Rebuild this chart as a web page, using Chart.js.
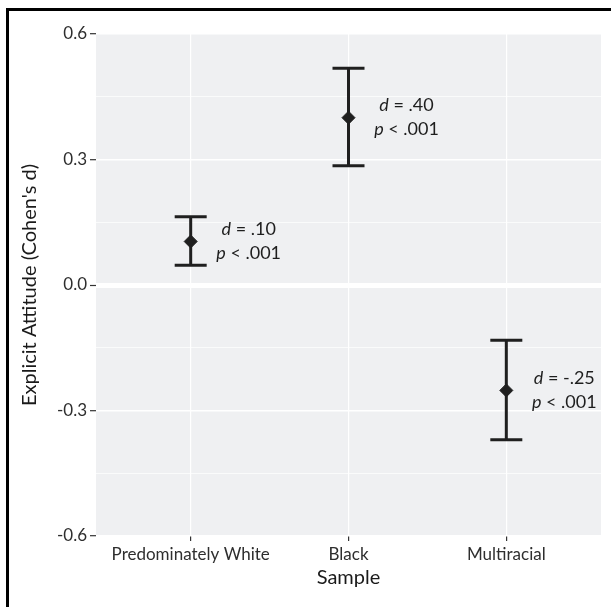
<!DOCTYPE html>
<html>
<head>
<meta charset="utf-8">
<script src="https://cdn.jsdelivr.net/npm/chart.js@4.4.1/dist/chart.umd.min.js"></script>
<style>
  body { margin: 0; background: #fff; }
  #wrap { position: relative; width: 611px; height: 607px; }
  #frame {
    position: absolute; left: 6px; top: 8px; right: 0; bottom: 0;
    border-left: 3px solid #000; border-top: 3px solid #000;
    pointer-events: none;
  }
</style>
</head>
<body>
<div id="wrap">
  <canvas id="myGraph" width="611" height="607"></canvas>
  <div id="frame"></div>
</div>
<script>
// samples and their effect sizes (Cohen's d) with 95% CI
const categories = ["Predominately White", "Black", "Multiracial"];
const means = [0.104, 0.40, -0.252];
const ciLow = [0.047, 0.285, -0.37];
const ciHigh = [0.163, 0.518, -0.132];
const dLabels = [".10", ".40", "-.25"];
const pLabels = ["< .001", "< .001", "< .001"];
const yMajorTicks = [-0.6, -0.3, 0.0, 0.3, 0.6];

const FONT = "Lato, 'Open Sans', sans-serif";
const INK = "#1f1f1f";

const isMajor = (v) => yMajorTicks.some((m) => Math.abs(m - v) < 1e-6);

// grey panel behind the grid
const panelBg = {
  id: "panelBg",
  beforeDraw(chart) {
    const { ctx, chartArea: a } = chart;
    ctx.save();
    ctx.fillStyle = "#eff0f2";
    ctx.fillRect(a.left, a.top, a.right - a.left, a.bottom - a.top);
    ctx.restore();
  },
};

// error bars with caps
const errorBars = {
  id: "errorBars",
  beforeDatasetsDraw(chart) {
    const { ctx, scales } = chart;
    const x = scales.x, y = scales.y;
    ctx.save();
    ctx.strokeStyle = INK;
    ctx.lineWidth = 3;
    ctx.lineCap = "butt";
    categories.forEach((c, i) => {
      const px = x.getPixelForValue(i + 1);
      const top = y.getPixelForValue(ciHigh[i]);
      const bot = y.getPixelForValue(ciLow[i]);
      ctx.beginPath();
      ctx.moveTo(px, top);
      ctx.lineTo(px, bot);
      ctx.moveTo(px - 16, top);
      ctx.lineTo(px + 16, top);
      ctx.moveTo(px - 16, bot);
      ctx.lineTo(px + 16, bot);
      ctx.stroke();
    });
    ctx.restore();
  },
};

// "d = .." / "p < .001" labels beside each point
function drawMixed(ctx, parts, cx, cy) {
  let w = 0;
  parts.forEach((p) => {
    ctx.font = (p.it ? "italic " : "") + "18px " + FONT;
    p.w = ctx.measureText(p.t).width;
    w += p.w;
  });
  let x = cx - w / 2;
  parts.forEach((p) => {
    ctx.font = (p.it ? "italic " : "") + "18px " + FONT;
    ctx.fillText(p.t, x, cy);
    x += p.w;
  });
}

const statLabels = {
  id: "statLabels",
  afterDatasetsDraw(chart) {
    const { ctx, scales } = chart;
    ctx.save();
    ctx.fillStyle = "#1e1e1e";
    ctx.textAlign = "left";
    ctx.textBaseline = "middle";
    categories.forEach((c, i) => {
      const cx = scales.x.getPixelForValue(i + 1) + 58;
      const cy = scales.y.getPixelForValue(means[i]);
      drawMixed(ctx, [{ t: "d", it: true }, { t: " = " + dLabels[i] }], cx, cy - 12);
      drawMixed(ctx, [{ t: "p", it: true }, { t: " " + pLabels[i] }], cx, cy + 12);
    });
    ctx.restore();
  },
};

const chartEl = document.getElementById("myGraph");
new Chart(chartEl, {
  type: "scatter",
  data: {
    datasets: [
      {
        label: "mean",
        data: means.map((m, i) => ({ x: i + 1, y: m })),
        pointStyle: "rectRot",
        pointRadius: 6.5,
        backgroundColor: INK,
        borderColor: INK,
        borderWidth: 1,
      },
    ],
  },
  options: {
    responsive: false,
    animation: false,
    devicePixelRatio: 1,
    layout: { padding: { top: 34, right: 10, left: 0, bottom: 0 } },
    plugins: {
      legend: { display: false },
      tooltip: { enabled: false },
    },
    scales: {
      x: {
        type: "linear",
        min: 0.4,
        max: 3.6,
        afterBuildTicks: (scale) => {
          scale.ticks = categories.map((c, i) => ({ value: i + 1 }));
        },
        afterFit: (scale) => {
          scale.height = 71;
        },
        ticks: {
          callback: (v) => categories[Math.round(v) - 1],
          font: { family: FONT, size: 17 },
          color: "#2e2e2e",
          padding: 3,
          maxRotation: 0,
          autoSkip: false,
        },
        grid: {
          color: "#ffffff",
          lineWidth: 1.2,
          drawTicks: true,
          tickLength: 5,
          tickColor: "#333",
          tickWidth: 1.2,
        },
        border: { display: false },
        title: {
          display: true,
          text: "Sample",
          font: { family: FONT, size: 20 },
          color: "#1a1a1a",
          padding: { top: 0, bottom: 17 },
        },
      },
      y: {
        min: -0.6,
        max: 0.6,
        afterFit: (scale) => {
          scale.width = 96;
        },
        ticks: {
          stepSize: 0.15,
          autoSkip: false,
          callback: (v) => (isMajor(v) ? v.toFixed(1) : ""),
          font: { family: FONT, size: 17 },
          color: "#2e2e2e",
          padding: 3,
        },
        grid: {
          color: "#ffffff",
          lineWidth: (ctx) => {
            const v = ctx.tick ? ctx.tick.value : 1;
            if (Math.abs(v) < 1e-6) return 5;
            return isMajor(v) ? 1.4 : 0.7;
          },
          drawTicks: true,
          tickLength: 6,
          tickWidth: 1.2,
          tickColor: (ctx) =>
            ctx.tick && isMajor(ctx.tick.value) ? "#333" : "rgba(0,0,0,0)",
        },
        border: { display: false },
        title: {
          display: true,
          text: "Explicit Attitude (Cohen's d)",
          font: { family: FONT, size: 20 },
          color: "#1a1a1a",
          padding: { top: 18, bottom: 0 },
        },
      },
    },
  },
  plugins: [panelBg, errorBars, statLabels],
});
</script>
</body>
</html>
